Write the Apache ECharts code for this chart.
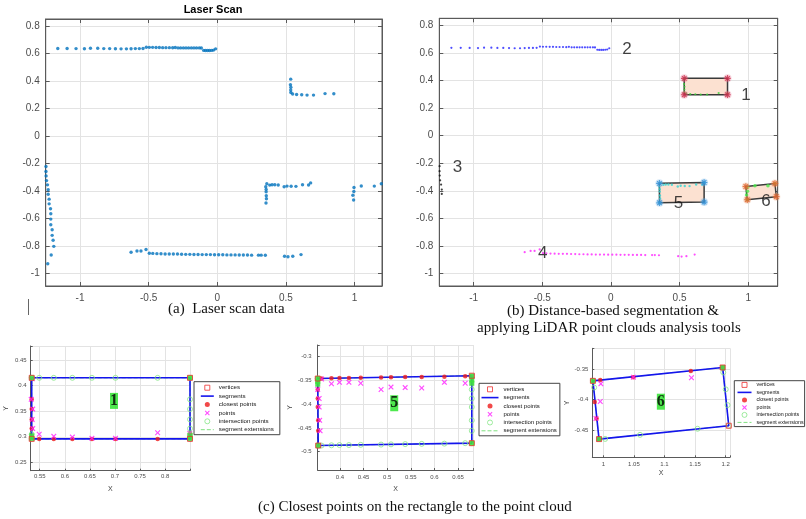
<!DOCTYPE html>
<html><head><meta charset="utf-8">
<script src="https://cdn.jsdelivr.net/npm/echarts@6/dist/echarts.min.js"></script>
<style>html,body{margin:0;padding:0;background:#fff}#c{width:806px;height:519px}</style>
</head><body><div id="c"></div>
<script>
// ---------------- DATA ----------------
// segment 1 (object right-top)
const seg1 = [[0.535,0.413],[0.533,0.373],[0.536,0.354],[0.535,0.334],[0.536,0.316],[0.549,0.305],[0.578,0.301],[0.615,0.2995],[0.654,0.297],[0.701,0.297],[0.785,0.308],[0.849,0.307]];
// segment 2 (top wall)
const seg2 = [[-1.162,0.636],[-1.094,0.636],[-1.029,0.635],[-0.968,0.634],[-0.924,0.637],[-0.871,0.637],[-0.827,0.635],[-0.784,0.635],[-0.742,0.634],[-0.701,0.633],[-0.662,0.633],[-0.628,0.634],[-0.597,0.635],[-0.568,0.635],[-0.541,0.636],[-0.517,0.645],[-0.495,0.644],[-0.471,0.644],[-0.446,0.643],[-0.422,0.643],[-0.398,0.642],[-0.374,0.642],[-0.349,0.642],[-0.325,0.641],[-0.306,0.643],[-0.286,0.640],[-0.267,0.640],[-0.247,0.640],[-0.228,0.640],[-0.209,0.640],[-0.189,0.640],[-0.170,0.640],[-0.151,0.640],[-0.131,0.640],[-0.116,0.639],[-0.099,0.622],[-0.085,0.621],[-0.070,0.621],[-0.056,0.621],[-0.041,0.622],[-0.027,0.624],[-0.012,0.633]];
// segment 3 (left wall) upper part (segmented) and lower part
const seg3Upper = [[-1.248,-0.222],[-1.248,-0.258],[-1.247,-0.290],[-1.244,-0.324],[-1.237,-0.355],[-1.232,-0.391],[-1.232,-0.423]];
const seg3Lower = [[-1.225,-0.459],[-1.225,-0.493],[-1.215,-0.529],[-1.213,-0.565],[-1.213,-0.604],[-1.213,-0.645],[-1.203,-0.681],[-1.203,-0.722],[-1.196,-0.758],[-1.191,-0.802],[-1.21,-0.865],[-1.235,-0.928]];
// segment 4 (bottom wall)
const seg4 = [[-0.628,-0.845],[-0.585,-0.836],[-0.556,-0.836],[-0.519,-0.825],[-0.495,-0.852],[-0.470,-0.853],[-0.440,-0.855],[-0.410,-0.856],[-0.380,-0.857],[-0.350,-0.857],[-0.320,-0.857],[-0.290,-0.858],[-0.260,-0.859],[-0.230,-0.860],[-0.200,-0.860],[-0.170,-0.861],[-0.140,-0.861],[-0.110,-0.862],[-0.080,-0.862],[-0.050,-0.862],[-0.020,-0.863],[0.010,-0.863],[0.040,-0.863],[0.070,-0.864],[0.100,-0.864],[0.130,-0.864],[0.160,-0.865],[0.190,-0.865],[0.220,-0.865],[0.250,-0.866],[0.300,-0.866],[0.320,-0.866],[0.350,-0.867],[0.490,-0.874],[0.515,-0.877],[0.550,-0.874],[0.610,-0.862]];
// segment 5
const seg5 = [[0.353,-0.369],[0.356,-0.388],[0.356,-0.406],[0.357,-0.434],[0.358,-0.456],[0.355,-0.487],[0.361,-0.347],[0.382,-0.357],[0.399,-0.354],[0.419,-0.354],[0.444,-0.356],[0.487,-0.369],[0.508,-0.364],[0.538,-0.365],[0.573,-0.366],[0.621,-0.354],[0.665,-0.356],[0.680,-0.341]];
// segment 6
const seg6 = [[0.996,-0.374],[0.995,-0.403],[0.988,-0.431],[0.993,-0.465],[1.049,-0.363],[1.144,-0.364],[1.195,-0.347]];

// fitted rectangles (vertices)
const rect1 = [[0.534,0.415],[0.8495,0.415],[0.8495,0.296],[0.534,0.296]];
const rect5 = [[0.353,-0.346],[0.679,-0.340],[0.679,-0.482],[0.354,-0.487]];
const rect6 = [[0.983,-0.369],[1.195,-0.347],[1.205,-0.443],[0.993,-0.465]];

// closest points on rectangle
const closest1 = [[0.534,0.373],[0.534,0.354],[0.534,0.334],[0.534,0.316],[0.549,0.296],[0.578,0.296],[0.615,0.296],[0.654,0.296],[0.701,0.296],[0.785,0.296],[0.8495,0.307]];
const closest5 = [[0.353,-0.369],[0.353,-0.388],[0.353,-0.406],[0.354,-0.434],[0.354,-0.456],[0.361,-0.3458],[0.382,-0.3453],[0.399,-0.345],[0.419,-0.345],[0.444,-0.3445],[0.487,-0.344],[0.508,-0.3435],[0.538,-0.343],[0.573,-0.3425],[0.621,-0.342],[0.665,-0.341]];
const closest6 = [[0.995,-0.3676],[0.986,-0.404],[0.989,-0.431],[0.993,-0.465],[1.049,-0.363],[1.143,-0.353],[1.195,-0.347]];

// intersection points
const inter1 = [[0.549,0.415],[0.578,0.415],[0.615,0.415],[0.654,0.415],[0.701,0.415],[0.785,0.415],[0.8495,0.373],[0.8495,0.354],[0.8495,0.334],[0.8495,0.316],[0.534,0.415],[0.8495,0.415],[0.534,0.296],[0.8495,0.296],[0.534,0.305],[0.8495,0.305]];
const inter5 = [[0.361,-0.487],[0.382,-0.4865],[0.399,-0.486],[0.419,-0.486],[0.444,-0.4855],[0.487,-0.485],[0.508,-0.4845],[0.538,-0.484],[0.573,-0.4835],[0.621,-0.483],[0.665,-0.482],[0.679,-0.369],[0.679,-0.388],[0.679,-0.406],[0.679,-0.434],[0.679,-0.456],[0.679,-0.341],[0.354,-0.487],[0.679,-0.482],[0.353,-0.346]];
const inter6 = [[1.003,-0.4647],[1.06,-0.458],[1.154,-0.448],[1.2,-0.383],[1.203,-0.409],[1.196,-0.355],[0.983,-0.369],[1.205,-0.443],[0.985,-0.38]];
// overlapping intersection clusters at corners (drawn as filled green squares)
const corner1 = [[0.534,0.415],[0.8495,0.415],[0.534,0.297],[0.534,0.302],[0.8495,0.297],[0.8495,0.302]];
const corner5 = [[0.353,-0.346],[0.353,-0.352],[0.353,-0.358],[0.679,-0.341],[0.679,-0.349],[0.679,-0.356],[0.354,-0.487],[0.679,-0.482]];
const corner6 = [[0.983,-0.369],[1.195,-0.347],[0.993,-0.465]];

// segment number labels in panel (b)
const bLabelText = ['1','2','3','4','5','6'];
const bLabelX = [0.984, 0.117, -1.118, -0.496, 0.493, 1.13];
const bLabelY = [0.292, 0.623, -0.227, -0.855, -0.493, -0.476];
// tags in panels (c)
const tagText = ['1','5','6'];
const tagX = [0.698, 0.5148, 1.094];
const tagY = [0.370, -0.398, -0.4034];

const legendNames = ['vertices','segments','closest points','points','intersection points','segment extensions'];

// ---------------- STYLE HELPERS ----------------
const XPATH = 'path://M0,1.5L1.5,0L5,3.5L8.5,0L10,1.5L6.5,5L10,8.5L8.5,10L5,6.5L1.5,10L0,8.5L3.5,5Z';
const STAR = 'path://M5,0L5,10M0,5L10,5M1.5,1.5L8.5,8.5M8.5,1.5L1.5,8.5';
const SQUARE = 'path://M0,0L10,0L10,10L0,10Z';
const FONT = 'Liberation Sans';
function fmtTick(iv){
  return function(v){
    const k = v/iv;
    if (Math.abs(k-Math.round(k))>1e-6) return '';
    return String(parseFloat(v.toFixed(4)));
  };
}
function xAx(gi,min,max,iv,fs,margin,name,nameGap,tickLen){
  return {type:'value', gridIndex:gi, min:min, max:max, minInterval:iv, maxInterval:iv, splitNumber:5, position:'bottom',
    axisLine:{show:true,onZero:false,lineStyle:{color:'#5a5a5a',width:1}},
    axisTick:{show:true,inside:true,length:tickLen,lineStyle:{color:'#5a5a5a'}},
    axisLabel:{show:true,color:'#4d4d4d',fontSize:fs,margin:margin,fontFamily:FONT,formatter:fmtTick(iv),showMinLabel:true,showMaxLabel:true,hideOverlap:false},
    splitLine:{show:true,lineStyle:{color:'#e3e3e3',width:1}},
    name:name||'', nameLocation:'middle', nameGap:nameGap||0, nameTextStyle:{fontSize:7,color:'#444',fontFamily:FONT}};
}
function yAx(gi,min,max,iv,fs,margin,name,nameGap,tickLen){
  return {type:'value', gridIndex:gi, min:min, max:max, minInterval:iv, maxInterval:iv, splitNumber:5, position:'left',
    axisLine:{show:true,onZero:false,lineStyle:{color:'#5a5a5a',width:1}},
    axisTick:{show:true,inside:true,length:tickLen,lineStyle:{color:'#5a5a5a'}},
    axisLabel:{show:true,color:'#4d4d4d',fontSize:fs,margin:margin,fontFamily:FONT,formatter:fmtTick(iv),showMinLabel:true,showMaxLabel:true,hideOverlap:false},
    splitLine:{show:true,lineStyle:{color:'#e3e3e3',width:1}},
    name:name||'', nameLocation:'middle', nameGap:nameGap||0, nameTextStyle:{fontSize:7,color:'#444',fontFamily:FONT}};
}
function mirror(ax,pos){
  return Object.assign({}, ax, {position:pos, axisLabel:{show:false}, splitLine:{show:false}, name:''});
}

const grids = [
  {left:45.7, top:19, width:336.3, height:267, show:true, borderColor:'#5a5a5a', borderWidth:1},
  {left:439.3, top:18.3, width:338.4, height:267.7, show:true, borderColor:'#5a5a5a', borderWidth:1},
  {left:30.7, top:346, width:159.5, height:124.7},
  {left:317.7, top:345, width:156, height:125},
  {left:592.3, top:348.3, width:137.7, height:109}
].map(g=>Object.assign({containLabel:false, outerBoundsMode:'none'}, g));

const xA = xAx(0,-1.25,1.2,0.5,10,7,'',0,4);
const xB = xAx(1,-1.25,1.215,0.5,10,7,'',0,4);
const yA = yAx(0,-1.09,0.85,0.2,10,6,'',0,4);
const yB = yAx(1,-1.09,0.85,0.2,10,6,'',0,4);
const xAxes = [xA, xB,
  xAx(2,0.532,0.8499,0.05,6,3,'X',14.8,2),
  xAx(3,0.3529,0.683,0.05,6,4.3,'X',15.8,2),
  xAx(4,0.982,1.207,0.05,6,3.7,'X',12.2,2),
  mirror(xA,'top'), mirror(xB,'top')];
const yAxes = [yA, yB,
  yAx(2,0.234,0.477,0.05,6,4,'Y',21,2),
  yAx(3,-0.5385,-0.2754,0.05,6,6,'Y',24,2),
  yAx(4,-0.495,-0.3154,0.05,6,4,'Y',21,2),
  mirror(yA,'right'), mirror(yB,'right')];

// ---------------- SERIES ----------------
const series = [];
// panel (a)
series.push({name:'scan', type:'scatter', xAxisIndex:0, yAxisIndex:0, symbol:'circle', symbolSize:3.4,
  itemStyle:{color:'#0072bd'}, data:[].concat(seg1,seg2,seg3Upper,seg3Lower,seg4,seg5,seg6)});

// panel (b)
series.push({name:'rects', type:'custom', xAxisIndex:1, yAxisIndex:1, z:1,
  dimensions:['x1','y1','x2','y2','x3','y3','x4','y4'],
  encode:{x:[0,2,4,6], y:[1,3,5,7]},
  data:[rect1,rect5,rect6].map(r=>[].concat(...r)),
  renderItem:function(params, api){
    const pts=[0,1,2,3].map(i=>api.coord([api.value(2*i), api.value(2*i+1)]));
    return {type:'polygon', shape:{points:pts}, style:{fill:'#fce1d1', stroke:'#3a3a3a', lineWidth:1.5}};
  }});
function bScatter(name,data,color,size){
  series.push({name:name, type:'scatter', xAxisIndex:1, yAxisIndex:1, symbol:'circle', symbolSize:size, z:3,
    itemStyle:{color:color}, data:data});
}
bScatter('b2',seg2,'#1f1fff',2.2);
bScatter('b3',seg3Upper,'#111',2.2);
bScatter('b4',seg4,'#ff22ff',2.2);
bScatter('b1',seg1,'#3bd13b',2.2);
bScatter('b5',seg5,'#2fd6d6',2.4);
bScatter('b6',seg6,'#4ae84a',3.6);
function bVerts(name,data,color,halo){
  series.push({name:name+'h', type:'scatter', xAxisIndex:1, yAxisIndex:1, symbol:'circle', symbolSize:8, z:4,
    itemStyle:{color:halo}, data:data});
  series.push({name:name, type:'scatter', xAxisIndex:1, yAxisIndex:1, symbol:STAR, symbolSize:6.5, z:5,
    itemStyle:{color:'transparent', borderColor:color, borderWidth:1.2}, data:data});
}
bVerts('v1',rect1,'#cc2a4a','rgba(230,120,150,0.4)');
bVerts('v5',rect5,'#2e8fd6','rgba(120,180,230,0.4)');
bVerts('v6',rect6,'#e0602a','rgba(240,160,110,0.4)');
series.push({name:'bLabels', type:'scatter', xAxisIndex:1, yAxisIndex:1, symbolSize:1, z:8,
  itemStyle:{color:'transparent'},
  label:{show:true, position:'inside', formatter:'{b}', fontSize:17, color:'#111', fontFamily:FONT},
  data:bLabelText.map((t,i)=>({name:t, value:[bLabelX[i], bLabelY[i]]}))});

// panels (c)
function cPanel(ax, rect, pts, closest, inter, corners, k){
  const closed = rect.concat([rect[0]]);
  series.push({name:'segment extensions', type:'line', xAxisIndex:ax, yAxisIndex:ax, data:closed, symbol:'none', z:2,
    lineStyle:{color:'#7fe07f', width:1, type:'dashed'}});
  series.push({name:'segments', type:'line', xAxisIndex:ax, yAxisIndex:ax, data:closed, symbol:'none', z:3,
    lineStyle:{color:'#1414ee', width:1.6}});
  series.push({name:'closest points', type:'scatter', xAxisIndex:ax, yAxisIndex:ax, data:closest, symbol:'circle', symbolSize:4.5, z:4,
    itemStyle:{color:'#ee1c1c'}});
  series.push({name:'points', type:'scatter', xAxisIndex:ax, yAxisIndex:ax, data:pts, symbol:XPATH, symbolSize:5.5, z:5,
    itemStyle:{color:'#ff1eff'}});
  series.push({name:'intersection points', type:'scatter', xAxisIndex:ax, yAxisIndex:ax, data:inter, symbol:'circle', symbolSize:5, z:6,
    itemStyle:{color:'transparent', borderColor:'#86e686', borderWidth:1}});
  series.push({name:'corner clusters', type:'scatter', xAxisIndex:ax, yAxisIndex:ax, data:corners, symbol:'rect', symbolSize:5, z:6,
    itemStyle:{color:'#3ee03e', opacity:0.9}});
  series.push({name:'vertices', type:'scatter', xAxisIndex:ax, yAxisIndex:ax, data:rect, symbol:'rect', symbolSize:5, z:7,
    itemStyle:{color:'transparent', borderColor:'#ee3030', borderWidth:1}});
  series.push({name:'tag'+k, type:'scatter', xAxisIndex:ax, yAxisIndex:ax, symbolSize:1, z:9, itemStyle:{color:'transparent'},
    label:{show:true, position:'inside', formatter:'{b}', fontSize:16, fontWeight:'bold', fontFamily:'Liberation Serif', color:'#000',
      backgroundColor:'#22e222', padding:[0,0], lineHeight:16},
    data:[{name:tagText[k], value:[tagX[k], tagY[k]]}]});
}
cPanel(2, rect1, seg1, closest1, inter1, corner1, 0);
cPanel(3, rect5, seg5, closest5, inter5, corner5, 1);
cPanel(4, rect6, seg6, closest6, inter6, corner6, 2);

// ---------------- LEGENDS ----------------
function legendData(){
  return [
    {name:'vertices', icon:SQUARE, itemStyle:{color:'transparent', borderColor:'#ee3030', borderWidth:1}},
    {name:'segments', itemStyle:{opacity:0}, lineStyle:{color:'#1414ee', width:1.6, type:'solid'}},
    {name:'closest points', icon:'circle', itemStyle:{color:'#ee1c1c'}},
    {name:'points', icon:XPATH, itemStyle:{color:'#ff1eff'}},
    {name:'intersection points', icon:'circle', itemStyle:{color:'transparent', borderColor:'#86e686', borderWidth:1}},
    {name:'segment extensions', itemStyle:{opacity:0}, lineStyle:{color:'#7fe07f', width:1, type:'dashed'}}
  ];
}
function mkLegend(left, top, itemWidth, fs, lh, gap, padding){
  return {show:true, orient:'vertical', left:left, top:top, itemWidth:itemWidth, itemHeight:5, itemGap:gap,
    padding:padding, borderColor:'#444', borderWidth:1, backgroundColor:'#fff', selectedMode:false, symbolKeepAspect:true,
    textStyle:{fontSize:fs, lineHeight:lh, color:'#111', fontFamily:FONT, padding:0},
    data:legendData()};
}
const legends = [
  mkLegend(194, 381.7, 13, 6.2, 8, 0.4, [2,6,1,6]),
  mkLegend(479, 383.3, 17, 6, 8, 0.3, [2,3,1,1.7]),
  mkLegend(734.3, 380.7, 14, 5.3, 7, 0.5, [0.7,1,0.7,2.4])
];

// ---------------- GRAPHIC TEXT ----------------
const graphic = [
  {type:'text', x:213, y:10, style:{text:'Laser Scan', font:'bold 11px "Liberation Sans"', fill:'#000', align:'center', verticalAlign:'middle'}},
  {type:'text', x:168, y:309, style:{text:'(a)  Laser scan data', font:'15px "Liberation Serif"', fill:'#111', align:'left', verticalAlign:'middle'}},
  {type:'text', x:507, y:311, style:{text:'(b) Distance-based segmentation &', font:'15px "Liberation Serif"', fill:'#111', align:'left', verticalAlign:'middle'}},
  {type:'text', x:477, y:328, style:{text:'applying LiDAR point clouds analysis tools', font:'15px "Liberation Serif"', fill:'#111', align:'left', verticalAlign:'middle'}},
  {type:'text', x:258, y:507, style:{text:'(c) Closest points on the rectangle to the point cloud', font:'15px "Liberation Serif"', fill:'#111', align:'left', verticalAlign:'middle'}},
  {type:'line', shape:{x1:28.5, y1:299, x2:28.5, y2:315}, style:{stroke:'#666', lineWidth:1}}
];

const chart = echarts.init(document.getElementById('c'), null, {renderer:'canvas'});
chart.setOption({
  animation:false,
  backgroundColor:'#fff',
  grid:grids, xAxis:xAxes, yAxis:yAxes,
  legend:legends,
  series:series,
  graphic:graphic
});
</script>
</body></html>
